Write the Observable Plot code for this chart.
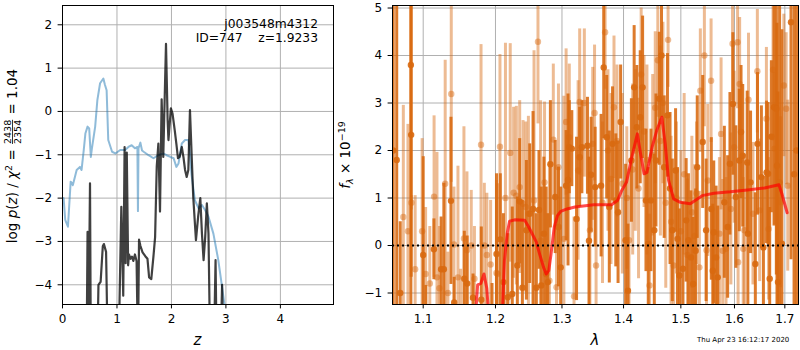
<!DOCTYPE html>
<html><head><meta charset="utf-8">
<script src="https://cdn.jsdelivr.net/npm/d3@7"></script>
<script src="https://cdn.jsdelivr.net/npm/@observablehq/plot@0.6"></script>
<style>
body{margin:0;background:#fff;}
#wrap{position:relative;width:800px;height:350px;font-family:"DejaVu Sans",sans-serif;}
#left,#right{position:absolute;top:0;}
#left{left:0;} #right{left:340px;}
#ov{position:absolute;left:0;top:0;pointer-events:none;}
#ov text{white-space:pre;}
</style></head><body>
<div id="wrap"><div id="left"></div><div id="right"></div><svg id="ov" width="800" height="350"></svg></div>
<script>
// ---------- Left panel data: log p(z) ----------
const zTicks = [0, 1, 2, 3, 4];
const pTicks = [-4, -3, -2, -1, 0, 1, 2];
const zBlue = [0.02,0.05,0.1,0.15,0.19,0.23,0.26,0.32,0.35,0.39,0.42,0.46,0.49,0.52,0.54,0.6,0.64,0.69,0.75,0.78,0.81,0.84,0.91,0.97,1.06,1.15,1.21,1.27,1.33,1.375,1.385,1.395,1.43,1.46,1.49,1.58,1.67,1.76,1.85,1.91,1.98,2.04,2.09,2.13,2.19,2.25,2.31,2.34,2.37,2.43,2.5,2.56,2.62,2.68,2.77,2.86,2.92,2.97,3.0];
const pBlue = [-2.0,-2.5,-2.66,-1.62,-1.7,-1.5,-1.35,-1.28,-1.35,-0.89,-0.51,-0.35,-0.39,-1.05,-0.85,-0.35,0.26,0.65,0.76,0.61,0.49,-0.66,-0.93,-0.97,-0.89,-0.89,-0.82,-0.78,-0.85,-0.82,-2.3,-0.85,-0.72,-0.9,-0.93,-1.01,-1.08,-1.01,-0.97,-1.01,-1.05,-1.08,-1.28,-1.2,-0.74,-0.66,-0.66,-0.97,-1.47,-2.05,-2.24,-2.16,-2.28,-2.43,-2.82,-3.43,-3.97,-4.43,-4.8];
const zBlack = [0.44,0.46,0.475,0.505,0.52,0.64,0.66,0.70,0.74,0.76,0.80,0.83,1.03,1.08,1.115,1.14,1.16,1.18,1.205,1.22,1.25,1.275,1.30,1.33,1.36,1.385,1.405,1.43,1.47,1.52,1.56,1.59,1.63,1.67,1.70,1.73,1.76,1.79,1.82,1.85,1.90,1.93,1.945,1.99,2.02,2.06,2.09,2.12,2.15,2.19,2.22,2.25,2.28,2.31,2.34,2.37,2.40,2.45,2.49,2.53,2.56,2.59,2.62,2.65,2.68,2.71,2.78,2.81,2.83,2.90,2.93,2.95];
const pBlack = [-6,-2.78,-5.5,-1.66,-5.5,-5.5,-4.0,-3.93,-3.11,-3.06,-3.24,-5.5,-5.5,-2.2,-4.25,-0.82,-3.5,-0.95,-3.55,-3.3,-3.4,-3.35,-3.45,-3.3,-3.45,-5.5,-2.96,-3.1,-3.25,-3.34,-3.4,-3.83,-3.87,-3.34,-2.9,-1.27,-0.74,-2.31,0.28,-1.05,1.56,-0.2,-0.66,0.07,-0.05,-0.43,-0.74,-1.08,-1.05,-0.82,-1.05,-1.35,-1.51,-1.35,0.03,-0.97,-1.97,-2.97,-2.43,-2.0,-2.82,-3.43,-2.89,-2.12,-2.82,-5.5,-5.5,-3.43,-5.5,-5.5,-4.0,-5.5];

// ---------- Right panel data: spectrum ----------
const lamTicks = [1.1, 1.2, 1.3, 1.4, 1.5, 1.6, 1.7];
const fTicks = [-1, 0, 1, 2, 3, 4, 5];
// dark (first grism) points
const dLam = [1.061,1.0655,1.070,1.0838,1.0842,1.100,1.1035,1.1143,1.124,1.1277,1.1374,1.1418,1.1558,1.1598,1.168,1.1797,1.195,
 1.2015,1.207,1.2115,1.218,1.2245,1.232,1.2355,1.2395,1.2455,1.2505,1.2555,1.2605,1.2645,1.268,1.272,1.2755,1.278,1.282,1.2895,1.2945,1.298,1.3065,1.3095,1.3115,1.3155,1.323,1.328,1.3315,1.3405,1.343,1.3465,1.353,
 1.3627,1.367,1.3719,1.3762,1.3816,1.387,1.3908,1.3951,1.4035,1.4075,1.4133,1.418,1.4226,1.4284,1.4325,1.4383,1.4423,1.447,1.4528,1.4557,1.4615,1.4655,1.4702,1.476,1.4806,1.4847,1.4905,1.494,1.4974,1.5038,1.5096,1.5137,1.5183,1.5224,1.527,1.5299,
 1.54,1.5463,1.556,1.5588,1.5606,1.565,1.5681,1.5806,1.5869,1.5913,1.597,1.6027,1.6093,1.6127,1.616,1.6247,1.626,1.6313,1.6407,1.645,1.6527,1.6567,1.663,1.666,1.6693,1.6727,1.678,1.6827,1.684,1.686,1.6893,1.694,1.7127,1.719,1.724];
const dFlux = [2.0,1.8,-1.0,3.8,2.33,-0.2,-1.3,-0.08,-0.5,-0.5,0.94,-1.2,-0.7,-0.8,-1.1,-1.14,-1.3,
 -0.18,0.13,-0.77,-1.09,-1.02,-0.42,0.93,-0.89,0.32,0.67,0.77,-0.89,0.75,-0.84,0.25,-0.6,-0.77,1.71,1.02,0.39,-0.46,1.26,1.38,2.07,2.04,0.56,1.86,2.07,2.1,0.1,1.49,1.23,
 1.26,3.75,2.28,0.81,2.14,0.95,0.70,2.60,0.11,-0.95,1.79,3.33,2.49,2.70,3.33,0.95,0.04,0.95,0.32,1.79,3.09,4.0,1.65,2.74,1.2,0.32,1.58,0.14,-0.63,-0.49,0.53,0.11,-0.25,-0.81,-0.11,1.65,
 2.18,0.32,0.77,-0.53,0.28,-0.25,-0.67,0.91,0.39,1.72,2.98,1.02,1.79,2.39,1.89,1.75,0.25,1.33,-0.39,2.14,1.44,-0.04,1.54,1.51,-0.7,2.29,2.91,2.88,1.68,-0.77,1.33,0.04,4.7,1.5,2.0];
const dErr = [4.0,4.5,1.5,5.5,3.0,2.07,0.46,0.64,1.1,1.81,1.76,0.53,1.0,1.0,0.5,1.53,0.5,
 1.69,1.38,1.44,1.34,1.83,1.44,1.32,1.84,1.47,1.47,2.05,1.56,1.25,2.07,1.61,1.83,1.44,1.34,1.19,1.26,1.69,1.16,1.81,0.98,0.8,1.72,1.05,0.98,1.02,1.76,1.21,1.26,
 1.5,1.5,1.3,1.6,1.2,1.4,1.5,1.2,1.6,1.4,1.3,1.3,1.3,1.4,1.5,1.5,1.6,1.5,1.6,1.4,1.4,1.3,1.5,1.3,1.6,1.5,1.3,1.5,1.4,1.4,1.3,1.4,1.4,1.4,1.3,1.5,
 1.4,1.5,1.5,1.4,1.5,1.5,1.5,1.6,1.5,1.5,1.5,1.5,1.5,1.4,1.5,1.5,1.5,1.5,1.5,1.5,1.5,1.5,1.5,1.5,1.5,1.6,2.5,3.5,3.0,4.0,5.0,4.5,5.0,5.0,5.0];
// light (second grism) points
const lLam = [1.074,1.080,1.0845,1.0894,1.0986,1.1032,1.1088,1.1145,1.1184,1.1217,1.1295,1.1332,1.1378,1.1415,1.147,1.1507,1.1553,1.1595,1.1655,1.170,1.1793,1.184,1.1876,1.193,1.2014,
 1.203,1.2065,1.2145,1.2215,1.2265,1.2305,1.2355,1.2405,1.2445,1.2485,1.257,1.263,1.267,1.273,1.2805,1.2865,1.2915,1.2945,1.303,1.3065,1.3115,1.319,1.3255,1.328,1.3355,1.3445,1.349,1.352,1.3545,
 1.365,1.3693,1.374,1.379,1.384,1.389,1.398,1.4055,1.4093,1.4155,1.42,1.4255,1.43,1.435,1.44,1.4445,1.45,1.4545,1.459,1.4635,1.468,1.473,1.4771,1.4825,1.487,1.492,1.5,1.506,1.512,1.52,1.525,1.5285,
 1.5338,1.5356,1.5431,1.547,1.5494,1.5556,1.5713,1.5744,1.5775,1.5838,1.5931,1.5963,1.5994,1.606,1.607,1.61,1.617,1.6193,1.6273,1.636,1.6447,1.6493,1.6627,1.667,1.676,1.679,1.6913,1.698,1.7027,1.706];
const lFlux = [0.6,0.3,0.9,-0.5,0.3,-0.6,-0.8,1.03,-0.67,-0.9,1.3,-1.0,3.19,0.02,-0.67,-1.3,0.15,-0.1,0.0,-0.7,2.12,0.0,-0.2,-0.4,-0.58,
 -0.6,2.08,1.0,1.95,1.11,1.05,1.23,0.88,0.81,0.67,0.95,4.29,0.1,1.33,-0.74,2.23,-0.88,1.65,0.14,2.6,2.28,-1.07,1.58,3.02,3.0,0.32,2.14,2.79,-0.42,
 0.9,4.49,2.0,1.4,2.91,2.2,1.3,1.0,0.11,1.6,2.0,1.2,3.6,2.4,1.8,-0.84,1.9,2.9,3.9,2.2,3.0,0.9,4.33,0.5,-0.42,1.0,0.3,1.5,-0.2,0.7,0.2,1.1,
 -0.46,3.26,4.0,-0.1,1.37,3.47,0.25,2.35,-0.11,-0.07,0.77,4.25,2.07,4.28,-0.35,3.4,-0.07,0.32,3.07,0.67,3.67,0.74,2.67,0.35,3.7,2.04,0.91,3.37,2.88,1.26];
const lErr = [2.35,2.25,0.15,1.55,1.95,1.4,1.2,1.7,2.63,1.3,2.6,0.86,1.86,1.21,2.34,0.8,2.35,1.65,1.16,1.1,2.11,1.31,1.3,1.35,1.95,
 1.9,1.94,3.26,2.3,1.8,1.88,1.82,1.75,1.79,2.05,3.15,1.73,2.95,1.69,2.5,1.59,1.83,1.75,3.0,1.54,1.54,1.67,1.89,1.54,1.56,1.68,1.61,1.43,1.65,
 1.7,1.2,1.7,1.8,1.5,1.6,1.9,1.5,1.5,1.8,1.7,1.9,1.4,1.6,2.0,1.5,1.7,1.6,1.2,2.0,1.7,1.8,1.0,1.8,1.5,1.6,1.7,1.7,1.6,1.6,1.5,1.5,
 1.6,1.3,1.5,1.5,1.6,1.3,1.6,1.6,1.5,1.5,1.6,1.2,1.6,1.4,1.3,1.4,1.5,1.6,1.4,1.5,1.3,1.5,1.5,1.5,1.5,1.6,1.8,1.5,1.6,1.8];
// model (red line)
const mLam = [1.171,1.1745,1.179,1.1835,1.1875,1.191,1.20,1.2095,1.213,1.217,1.2205,1.228,1.243,1.249,1.2555,1.2605,1.2655,1.2715,1.2755,1.2795,1.283,1.288,1.293,1.298,1.308,1.3205,1.3505,1.38,1.39,1.397,1.405,1.414,1.4235,1.429,1.435,1.44,1.449,1.457,1.466,1.472,1.478,1.487,1.499,1.517,1.526,1.539,1.561,1.592,1.625,1.659,1.688,1.694,1.7047];
const mFlux = [-1.6,-0.83,-0.8,-0.6,-0.9,-1.6,-2.5,-1.6,-0.32,0.25,0.51,0.54,0.53,0.39,0.21,0.07,-0.18,-0.46,-0.6,-0.53,-0.18,0.39,0.63,0.72,0.77,0.81,0.86,0.86,0.95,1.16,1.33,1.86,2.35,1.93,1.51,1.54,2.07,2.42,2.7,2.14,1.37,0.98,0.91,0.88,0.95,1.05,1.1,1.13,1.17,1.21,1.28,1.09,0.69];

// ---------- helpers ----------
const fmtMinus = d => d < 0 ? "\u2212" + Math.abs(d) : String(d);
const baseStyle = {fontFamily: "'DejaVu Sans', sans-serif", fontSize: "12px", color: "black", background: "transparent", overflow: "visible"};
const idx = a => a.map((_, i) => i);
const ORANGE = "#d8690f";
const GRID = "#b0b0b0";

// ---------- left plot ----------
const leftPlot = Plot.plot({
  width: 340, height: 350,
  marginLeft: 62, marginRight: 7, marginTop: 5, marginBottom: 46,
  style: baseStyle,
  x: {domain: [0, 4.975], ticks: zTicks, tickFormat: fmtMinus, tickSize: 4.4, tickPadding: 6, label: null},
  y: {domain: [-4.455, 2.445], ticks: pTicks, tickFormat: fmtMinus, tickSize: 4.4, tickPadding: 6, label: null},
  marks: [
    Plot.ruleX(zTicks, {stroke: GRID, strokeWidth: 1}),
    Plot.ruleY(pTicks, {stroke: GRID, strokeWidth: 1}),
    Plot.line(idx(zBlue), {x: i => zBlue[i], y: i => pBlue[i], stroke: "#1f77b4", strokeOpacity: 0.5, strokeWidth: 2, clip: true}),
    Plot.line(idx(zBlack), {x: i => zBlack[i], y: i => pBlack[i], stroke: "black", strokeOpacity: 0.75, strokeWidth: 2.2, clip: true}),
    Plot.frame({stroke: "black", strokeWidth: 1})
  ]
});
document.getElementById("left").appendChild(leftPlot);

// ---------- right plot ----------
const rightPlot = Plot.plot({
  width: 460, height: 350,
  marginLeft: 52, marginRight: 2, marginTop: 5, marginBottom: 46,
  style: baseStyle,
  x: {type: "log", domain: [1.0601, 1.7282], ticks: lamTicks, tickFormat: d => d.toFixed(1), tickSize: 4.4, tickPadding: 6, label: null},
  y: {domain: [-1.242, 5.053], ticks: fTicks, tickFormat: fmtMinus, tickSize: 4.4, tickPadding: 6, label: null},
  marks: [
    Plot.ruleX(lamTicks, {stroke: GRID, strokeWidth: 1}),
    Plot.ruleY(fTicks, {stroke: GRID, strokeWidth: 1}),
    Plot.ruleX(idx(lLam), {x: i => lLam[i], y1: i => lFlux[i] - lErr[i], y2: i => lFlux[i] + lErr[i], stroke: ORANGE, strokeOpacity: 0.45, strokeWidth: 3, clip: true}),
    Plot.dot(idx(lLam), {x: i => lLam[i], y: i => lFlux[i], r: 3.2, fill: ORANGE, fillOpacity: 0.45, stroke: "none", clip: true}),
    Plot.ruleX(idx(dLam), {x: i => dLam[i], y1: i => dFlux[i] - dErr[i], y2: i => dFlux[i] + dErr[i], stroke: ORANGE, strokeOpacity: 0.88, strokeWidth: 3, clip: true}),
    Plot.dot(idx(dLam), {x: i => dLam[i], y: i => dFlux[i], r: 3.2, fill: ORANGE, fillOpacity: 0.9, stroke: "none", clip: true}),
    Plot.line(idx(mLam), {x: i => mLam[i], y: i => mFlux[i], stroke: "red", strokeOpacity: 0.7, strokeWidth: 3, clip: true}),
    Plot.ruleY([0], {stroke: "black", strokeWidth: 2, strokeDasharray: "2,3"}),
    Plot.frame({stroke: "black", strokeWidth: 1})
  ]
});
document.getElementById("right").appendChild(rightPlot);

// ---------- text overlay ----------
const NS = "http://www.w3.org/2000/svg";
const ov = document.getElementById("ov");
function el(tag, attrs, parent, txt) {
  const e = document.createElementNS(NS, tag);
  for (const k in attrs) e.setAttribute(k, attrs[k]);
  if (txt !== undefined) e.textContent = txt;
  (parent || ov).appendChild(e);
  return e;
}
const FF = "DejaVu Sans";

// annotation inside left panel
el("text", {x: 318, y: 28, "text-anchor": "end", "font-size": 12.3, "font-family": FF}, ov, "j003548m4312");
el("text", {x: 318, y: 41.5, "text-anchor": "end", "font-size": 12.3, "font-family": FF}, ov, "ID=747    z=1.9233");

// x labels
el("text", {x: 197.5, y: 345, "text-anchor": "middle", "font-size": 15, "font-family": FF, "font-style": "italic"}, ov, "z");
el("text", {x: 595, y: 345, "text-anchor": "middle", "font-size": 15, "font-family": FF, "font-style": "italic"}, ov, "\u03bb");

// timestamp
el("text", {x: 697, y: 342, "font-size": 7, "font-family": FF}, ov, "Thu Apr 23 16:12:17 2020");

// left y label: log p(z) / chi^2 = 2438/2354 = 1.04
(function () {
  const g = el("g", {}, ov);
  const fs = 13.5;
  const tA = el("text", {x: 0, y: 0, "font-size": fs, "font-family": FF}, g);
  const parts = [["log ", ""], ["p", "italic"], ["(", ""], ["z", "italic"], [") / ", ""], ["\u03c7", "italic"]];
  parts.forEach(([t, s]) => el("tspan", s ? {"font-style": s} : {}, tA, t));
  el("tspan", {"font-size": 9.5, dy: -5.5}, tA, "2");
  el("tspan", {dy: 5.5}, tA, " = ");
  const wA = tA.getComputedTextLength();
  const num = el("text", {y: -6.2, "font-size": 9.5, "font-family": FF, "text-anchor": "middle"}, g, "2438");
  const den = el("text", {y: 3.6, "font-size": 9.5, "font-family": FF, "text-anchor": "middle"}, g, "2354");
  const fw = Math.max(num.getComputedTextLength(), den.getComputedTextLength()) + 2;
  num.setAttribute("x", wA + fw / 2);
  den.setAttribute("x", wA + fw / 2);
  el("line", {x1: wA + 1, x2: wA + fw - 1, y1: -4.5, y2: -4.5, stroke: "black", "stroke-width": 0.8}, g);
  const tC = el("text", {x: wA + fw, y: 0, "font-size": fs, "font-family": FF}, g, " = 1.04");
  const W = wA + fw + tC.getComputedTextLength();
  g.setAttribute("transform", `translate(17,156) rotate(-90) translate(${-W / 2},0)`);
})();

// right y label: f_lambda x 10^-19
(function () {
  const g = el("g", {}, ov);
  const t = el("text", {x: 0, y: 0, "font-size": 13.5, "font-family": FF}, g);
  el("tspan", {"font-style": "italic"}, t, "f");
  el("tspan", {"font-style": "italic", "font-size": 9.5, dy: 3}, t, "\u03bb");
  el("tspan", {dy: -3}, t, " \u00d7 10");
  el("tspan", {"font-size": 9.5, dy: -5.5}, t, "\u221219");
  const W = t.getComputedTextLength();
  g.setAttribute("transform", `translate(350,155) rotate(-90) translate(${-W / 2},0)`);
})();
</script>
</body></html>
